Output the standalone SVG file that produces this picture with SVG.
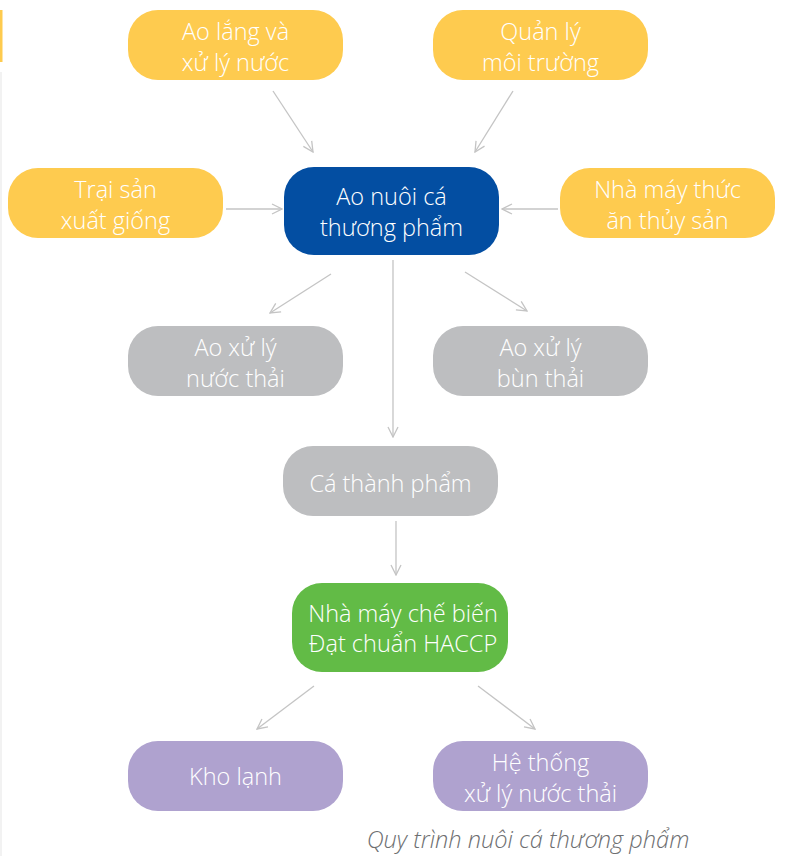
<svg xmlns="http://www.w3.org/2000/svg" width="786" height="856" viewBox="0 0 786 856">
<defs>
<style>
.n text{font-family:"Open Sans","Liberation Sans",sans-serif;font-weight:300;font-size:23.5px;fill:#ffffff;text-anchor:middle}
.y{fill:#FECB4F}.b{fill:#034EA2}.g{fill:#BDBEC0}.gr{fill:#62BB46}.p{fill:#AFA2CF}
.c line{stroke:#C4C4C4;stroke-width:1.3;fill:none;marker-end:url(#ah)}
.cap{font-family:"Open Sans","Liberation Sans",sans-serif;font-style:italic;font-weight:300;font-size:23.6px;fill:#6D6E70}
</style>
<marker id="ah" viewBox="0 0 12 12" refX="11" refY="6" markerWidth="12" markerHeight="12" markerUnits="userSpaceOnUse" orient="auto">
<path d="M1,1 L11,6 L1,11" fill="none" stroke="#C4C4C4" stroke-width="1.3"/>
</marker>
</defs>
<rect width="786" height="856" fill="#ffffff"/>
<rect x="0" y="10" width="2.5" height="52" fill="#FECB4F"/>
<rect x="0" y="72" width="2" height="784" fill="#F2F2F2"/>

<g class="c" id="connectors">
<line x1="273" y1="91" x2="313" y2="152"/>
<line x1="513" y1="91" x2="475" y2="152"/>
<line x1="226" y1="209" x2="282" y2="209"/>
<line x1="558" y1="209" x2="502" y2="209"/>
<line x1="393" y1="260" x2="393" y2="437"/>
<line x1="331" y1="274" x2="270" y2="313"/>
<line x1="465" y1="272" x2="527" y2="311"/>
<line x1="396" y1="521" x2="396" y2="575"/>
<line x1="314" y1="686" x2="257" y2="729"/>
<line x1="478" y1="686" x2="535" y2="729"/>
</g>

<g class="n" id="ao-lang">
<rect class="y" x="128" y="10" width="215" height="70" rx="30"/>
<text x="235.5" y="40">Ao lắng và</text>
<text x="235.5" y="71">xử lý nước</text>
</g>
<g class="n" id="quan-ly">
<rect class="y" x="433" y="10" width="215" height="70" rx="30"/>
<text x="540.5" y="40">Quản lý</text>
<text x="540.5" y="71">môi trường</text>
</g>
<g class="n" id="trai-san">
<rect class="y" x="8" y="168" width="215" height="70" rx="30"/>
<text x="115.5" y="198">Trại sản</text>
<text x="115.5" y="229">xuất giống</text>
</g>
<g class="n" id="ao-nuoi">
<rect class="b" x="284" y="167" width="215" height="88" rx="30"/>
<text x="391.5" y="205">Ao nuôi cá</text>
<text x="391.5" y="236">thương phẩm</text>
</g>
<g class="n" id="nha-may-thuc-an">
<rect class="y" x="560" y="168" width="215" height="70" rx="30"/>
<text x="667.5" y="198">Nhà máy thức</text>
<text x="667.5" y="229">ăn thủy sản</text>
</g>
<g class="n" id="ao-xl-nuoc">
<rect class="g" x="128" y="326" width="215" height="70" rx="30"/>
<text x="235.5" y="356">Ao xử lý</text>
<text x="235.5" y="387">nước thải</text>
</g>
<g class="n" id="ao-xl-bun">
<rect class="g" x="433" y="326" width="215" height="70" rx="30"/>
<text x="540.5" y="356">Ao xử lý</text>
<text x="540.5" y="387">bùn thải</text>
</g>
<g class="n" id="ca-thanh-pham">
<rect class="g" x="283" y="446" width="215" height="70" rx="30"/>
<text x="390.5" y="492">Cá thành phẩm</text>
</g>
<g class="n" id="nha-may-che-bien">
<rect class="gr" x="292" y="583" width="216" height="89" rx="30"/>
<text x="403" y="622">Nhà máy chế biến</text>
<text x="403" y="652">Đạt chuẩn HACCP</text>
</g>
<g class="n" id="kho-lanh">
<rect class="p" x="128" y="741" width="215" height="70" rx="30"/>
<text x="235.5" y="785">Kho lạnh</text>
</g>
<g class="n" id="he-thong">
<rect class="p" x="433" y="741" width="215" height="70" rx="30"/>
<text x="540.5" y="771">Hệ thống</text>
<text x="540.5" y="802">xử lý nước thải</text>
</g>
<text class="cap" x="528" y="848" text-anchor="middle">Quy trình nuôi cá thương phẩm</text>
</svg>
